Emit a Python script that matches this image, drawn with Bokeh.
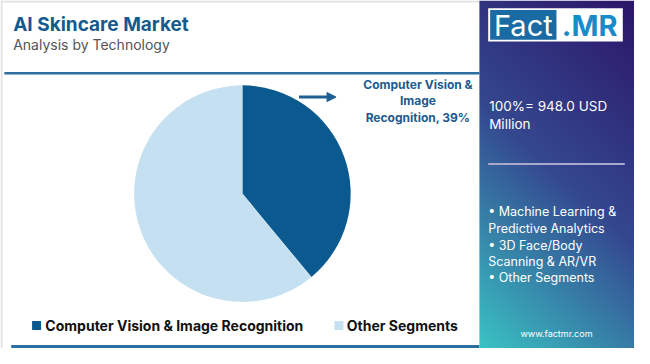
import numpy as np
from bokeh.plotting import figure
from bokeh.models import Range1d, Arrow, NormalHead
from bokeh.core.properties import value
from bokeh.embed import file_html
from bokeh.resources import INLINE

# ---- data ----
categories = ["Computer Vision & Image Recognition", "Other Segments"]
shares = [39, 61]
colors = ["#0b5a8f", "#c5e1f1"]
title = "AI Skincare Market"
subtitle = "Analysis by Technology"
callout_lines = ["Computer Vision &", "Image", "Recognition, 39%"]
total_lines = ["100%= 948.0 USD", "Million"]
other_lines = ["\u2022 Machine Learning &", "Predictive Analytics", "\u2022 3D Face/Body",
               "Scanning & AR/VR", "\u2022 Other Segments"]
website = "www.factmr.com"

W, H = 650, 364
p = figure(width=634, height=348, x_range=Range1d(0, W), y_range=Range1d(H, 0),
           output_backend="svg", toolbar_location=None, min_border=0)
p.axis.visible = False
p.grid.visible = False
p.outline_line_color = None
p.background_fill_color = "white"
p.border_fill_color = "white"

FONT = value("Inter")
sx = 634 / 650

# card border
p.line([1, 1], [0, H], line_color="#e2e2e2", line_width=2)
p.line([0, 492], [1, 1], line_color="#e2e2e2", line_width=2)
# header line & bottom line
p.line([4, 491], [76, 76], line_color="#2c6e9f", line_width=2.5)
p.line([11, 491], [362, 362], line_color="#2c6e9f", line_width=3)

# titles
p.text([13], [25], text=[title], text_font=FONT, text_font_style="bold",
       text_font_size="19px", text_color="#155a8c", text_baseline="middle")
p.text([13], [46], text=[subtitle], text_font=FONT, text_font_size="14px",
       text_color="#555555", text_baseline="middle")

# pie (angles are screen-oriented: start at 12 o'clock, go clockwise)
cx, cy, r = 248, 202, 111
fr = np.array(shares) / sum(shares)
ends = np.pi / 2 - 2 * np.pi * np.cumsum(fr)
starts = np.concatenate([[np.pi / 2], ends[:-1]])
p.wedge(x=cx, y=cy, radius=r * sx, radius_units="screen", start_angle=starts,
        end_angle=ends, direction="clock", fill_color=colors, line_color=None)

# callout arrow and label
p.add_layout(Arrow(end=NormalHead(size=9, fill_color="#1d5f92", line_color="#1d5f92"),
                   x_start=306, y_start=101, x_end=344, y_end=101,
                   line_color="#1d5f92", line_width=3))
p.text([428] * 3, [88, 105, 122], text=callout_lines, text_font=FONT,
       text_font_style="bold", text_font_size="12px", text_color="#1d5a8c",
       text_align="center", text_baseline="middle")

# legend
lx = [32, 342]
p.rect([lx[0] + 5, lx[1] + 5], [340, 340], width=9, height=9, width_units="screen",
       height_units="screen", fill_color=colors, line_color=None)
p.text([lx[0] + 14, lx[1] + 13], [340, 340], text=categories, text_font=FONT,
       text_font_style="bold", text_font_size="14px", text_color="#111111",
       text_baseline="middle")

# right panel gradient
pw, ph = 159, H
yy, xx = np.mgrid[0:ph, 0:pw]
t = np.clip(((pw - xx) / pw * 0.35 + yy / ph * 0.85) / 1.2, 0, 1)
stops = np.array([[44, 22, 104], [52, 72, 144], [58, 196, 196]], dtype=float)
def interp(tv):
    out = np.empty(tv.shape + (3,))
    lo = tv < 0.5
    a = np.where(lo, tv / 0.5, (tv - 0.5) / 0.5)[..., None]
    out[lo] = (stops[0] * (1 - a) + stops[1] * a)[lo]
    out[~lo] = (stops[1] * (1 - a) + stops[2] * a)[~lo]
    return out
rgb = interp(t).astype(np.uint32)
img = (255 << 24) | (rgb[..., 2] << 16) | (rgb[..., 1] << 8) | rgb[..., 0]
img = img.astype(np.uint32)
p.image_rgba(image=[img], x=491, y=0, dw=pw, dh=ph)

# logo
p.quad(left=500, right=638, top=8, bottom=43, fill_color="white", line_color=None)
p.quad(left=502, right=570, top=10, bottom=41, fill_color="#1a6aa3", line_color=None)
p.text([536], [26], text=["Fact"], text_font=FONT, text_font_size="29px",
       text_color="white", text_align="center", text_baseline="middle")
p.text([604], [26], text=[".MR"], text_font=FONT, text_font_style="bold",
       text_font_size="29px", text_color="#1a8bc9", text_align="center",
       text_baseline="middle")

# panel texts
p.text([501] * 2, [110, 129], text=total_lines, text_font=FONT, text_font_size="13.5px",
       text_color="white", text_baseline="middle")
p.line([500, 640], [171, 171], line_color="#a9a9cf", line_width=2)
p.text([500] * 5, [221, 238.5, 256, 273, 290], text=other_lines, text_font=FONT,
       text_font_size="12.5px", text_color="white", text_baseline="middle")
p.text([570], [348], text=[website], text_font=FONT, text_font_size="9px",
       text_color="white", text_align="center", text_baseline="middle")

open("out.html", "w").write(file_html(p, INLINE))
